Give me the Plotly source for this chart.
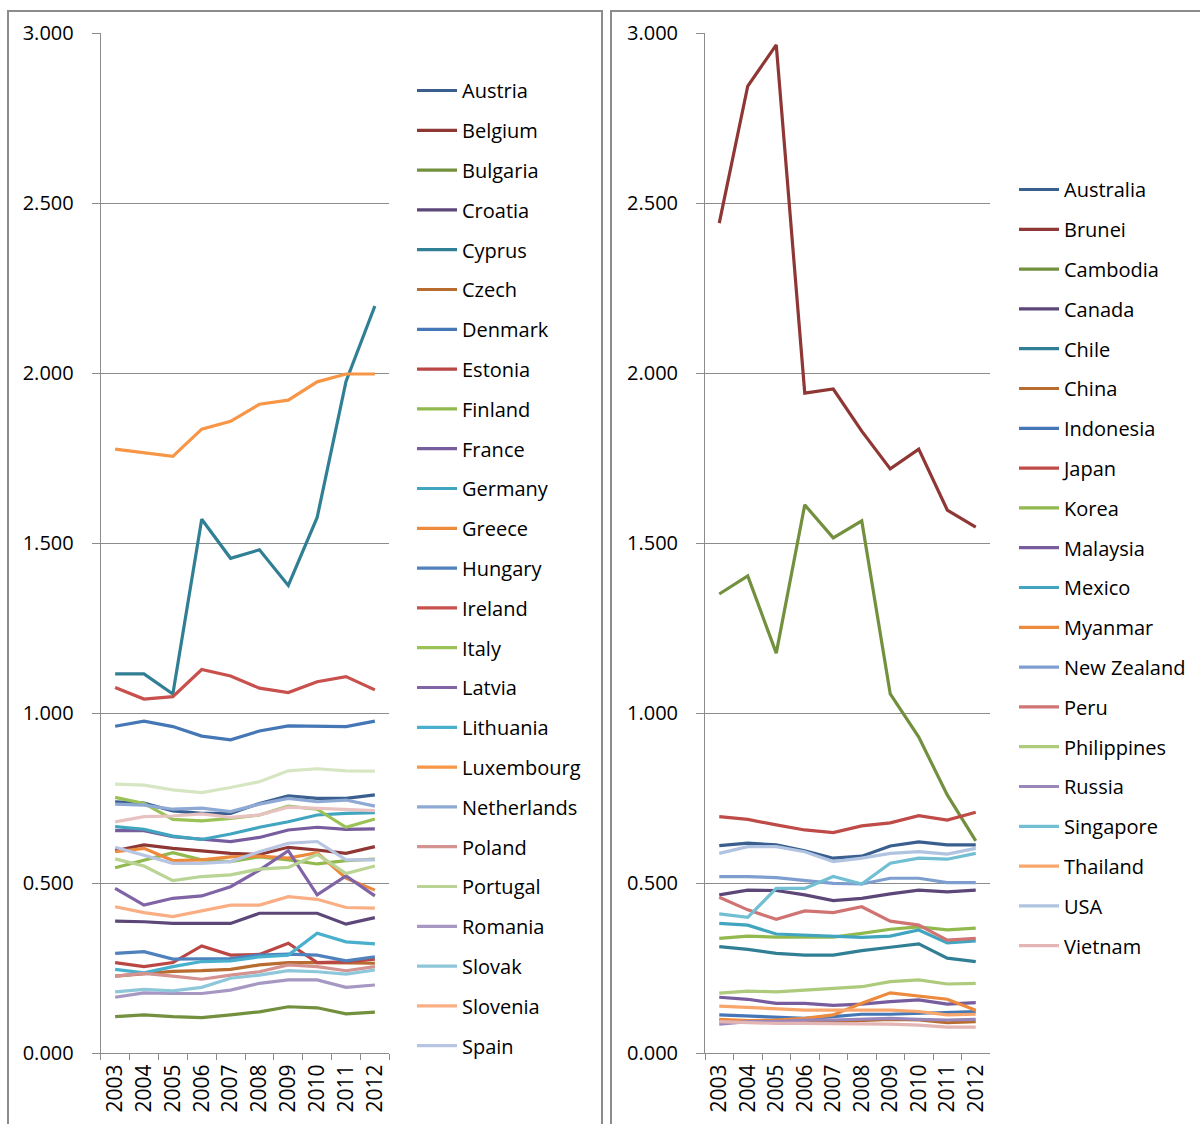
import plotly.graph_objects as go

# ---------------------------------------------------------------- data
years = ["2003", "2004", "2005", "2006", "2007", "2008", "2009", "2010", "2011", "2012"]

y_ticks = [0.0, 0.5, 1.0, 1.5, 2.0, 2.5, 3.0]

# Europe
austria = [0.739, 0.735, 0.712, 0.705, 0.705, 0.734, 0.756, 0.749, 0.749, 0.759]
belgium = [0.595, 0.612, 0.602, 0.595, 0.587, 0.584, 0.605, 0.597, 0.587, 0.607]
bulgaria = [0.107, 0.112, 0.107, 0.104, 0.112, 0.121, 0.136, 0.133, 0.115, 0.120]
croatia = [0.388, 0.386, 0.381, 0.381, 0.381, 0.411, 0.411, 0.411, 0.379, 0.398]
cyprus = [1.115, 1.115, 1.056, 1.570, 1.455, 1.480, 1.375, 1.575, 1.975, 2.197]
czech = [0.226, 0.234, 0.240, 0.242, 0.246, 0.259, 0.266, 0.266, 0.264, 0.264]
denmark = [0.961, 0.976, 0.960, 0.932, 0.921, 0.947, 0.962, 0.962, 0.960, 0.976]
estonia = [0.266, 0.254, 0.266, 0.315, 0.288, 0.290, 0.323, 0.266, 0.268, 0.276]
finland = [0.545, 0.568, 0.589, 0.568, 0.563, 0.577, 0.568, 0.556, 0.566, 0.570]
france = [0.654, 0.654, 0.636, 0.628, 0.622, 0.634, 0.656, 0.664, 0.658, 0.659]
germany = [0.666, 0.658, 0.638, 0.628, 0.644, 0.664, 0.680, 0.700, 0.705, 0.707]
greece = [0.592, 0.602, 0.566, 0.568, 0.577, 0.579, 0.573, 0.589, 0.514, 0.479]
hungary = [0.293, 0.298, 0.276, 0.276, 0.278, 0.288, 0.291, 0.288, 0.271, 0.283]
ireland = [1.075, 1.041, 1.048, 1.128, 1.109, 1.073, 1.060, 1.092, 1.107, 1.068]
italy = [0.752, 0.734, 0.687, 0.683, 0.690, 0.700, 0.726, 0.717, 0.664, 0.688]
latvia = [0.484, 0.435, 0.455, 0.462, 0.489, 0.538, 0.595, 0.465, 0.521, 0.462]
lithuania = [0.246, 0.236, 0.254, 0.269, 0.271, 0.283, 0.288, 0.352, 0.327, 0.321]
luxembourg = [1.776, 1.766, 1.755, 1.835, 1.858, 1.908, 1.920, 1.974, 1.997, 1.997]
netherlands = [0.732, 0.729, 0.717, 0.720, 0.710, 0.732, 0.749, 0.739, 0.744, 0.726]
poland = [0.226, 0.234, 0.226, 0.217, 0.229, 0.239, 0.259, 0.254, 0.242, 0.254]
portugal = [0.571, 0.550, 0.507, 0.519, 0.524, 0.541, 0.546, 0.584, 0.528, 0.550]
romania = [0.164, 0.177, 0.175, 0.175, 0.185, 0.205, 0.215, 0.215, 0.193, 0.200]
slovak = [0.180, 0.187, 0.183, 0.193, 0.220, 0.229, 0.242, 0.239, 0.232, 0.244]
slovenia = [0.430, 0.413, 0.401, 0.419, 0.435, 0.435, 0.460, 0.452, 0.428, 0.426]
spain = [0.605, 0.582, 0.558, 0.558, 0.563, 0.592, 0.617, 0.622, 0.568, 0.568]
sweden = [0.680, 0.695, 0.697, 0.703, 0.693, 0.700, 0.723, 0.720, 0.717, 0.713]
uk = [0.791, 0.788, 0.774, 0.766, 0.781, 0.798, 0.830, 0.836, 0.830, 0.829]

europe_names = ["Austria", "Belgium", "Bulgaria", "Croatia", "Cyprus", "Czech",
                "Denmark", "Estonia", "Finland", "France", "Germany", "Greece",
                "Hungary", "Ireland", "Italy", "Latvia", "Lithuania", "Luxembourg",
                "Netherlands", "Poland", "Portugal", "Romania", "Slovak", "Slovenia",
                "Spain", "Sweden", "United Kingdom"]
europe_values = [austria, belgium, bulgaria, croatia, cyprus, czech,
                 denmark, estonia, finland, france, germany, greece,
                 hungary, ireland, italy, latvia, lithuania, luxembourg,
                 netherlands, poland, portugal, romania, slovak, slovenia,
                 spain, sweden, uk]
europe_colors = ["#3A5F8E", "#8E3735", "#72903D", "#5D4778", "#317F94", "#B86C2F",
                 "#4576B6", "#BA4744", "#92B94E", "#775C9E", "#41A5C0", "#EC8A3E",
                 "#4F81BD", "#C8504D", "#9BC256", "#8064A6", "#48B0CC", "#F79646",
                 "#8EA9D4", "#D49290", "#BAD495", "#A698C3", "#8EC7D9", "#F9AE84",
                 "#B7C5E2", "#E8C2C1", "#D6E5C2"]
europe_in_legend = [True] * 25 + [False, False]

# Asia-Pacific / Americas
australia = [0.610, 0.617, 0.612, 0.595, 0.573, 0.579, 0.609, 0.621, 0.612, 0.612]
brunei = [2.441, 2.844, 2.965, 1.941, 1.953, 1.829, 1.718, 1.776, 1.597, 1.547]
cambodia = [1.350, 1.403, 1.176, 1.612, 1.515, 1.565, 1.056, 0.929, 0.759, 0.624]
canada = [0.465, 0.479, 0.478, 0.465, 0.448, 0.455, 0.468, 0.479, 0.474, 0.479]
chile = [0.313, 0.305, 0.293, 0.288, 0.288, 0.301, 0.311, 0.321, 0.279, 0.269]
china = [0.097, 0.092, 0.089, 0.089, 0.092, 0.095, 0.099, 0.097, 0.089, 0.092]
indonesia = [0.112, 0.109, 0.105, 0.102, 0.107, 0.114, 0.114, 0.117, 0.118, 0.122]
japan = [0.695, 0.687, 0.671, 0.656, 0.648, 0.668, 0.677, 0.698, 0.685, 0.708]
korea = [0.337, 0.344, 0.341, 0.341, 0.341, 0.352, 0.364, 0.371, 0.362, 0.367]
malaysia = [0.164, 0.158, 0.146, 0.146, 0.140, 0.144, 0.151, 0.156, 0.144, 0.148]
mexico = [0.381, 0.376, 0.350, 0.347, 0.344, 0.340, 0.344, 0.362, 0.324, 0.330]
myanmar = [0.099, 0.095, 0.097, 0.102, 0.112, 0.146, 0.177, 0.168, 0.158, 0.126]
new_zealand = [0.519, 0.519, 0.516, 0.507, 0.499, 0.497, 0.514, 0.514, 0.501, 0.501]
peru = [0.458, 0.421, 0.393, 0.418, 0.413, 0.430, 0.388, 0.376, 0.332, 0.337]
philippines = [0.176, 0.182, 0.180, 0.185, 0.192, 0.195, 0.210, 0.215, 0.203, 0.205]
russia = [0.085, 0.092, 0.092, 0.097, 0.097, 0.099, 0.102, 0.099, 0.097, 0.099]
singapore = [0.409, 0.399, 0.484, 0.484, 0.519, 0.497, 0.558, 0.573, 0.570, 0.587]
thailand = [0.138, 0.134, 0.129, 0.126, 0.126, 0.126, 0.126, 0.122, 0.112, 0.114]
usa = [0.587, 0.607, 0.607, 0.592, 0.563, 0.573, 0.587, 0.592, 0.585, 0.602]
vietnam = [0.092, 0.089, 0.087, 0.087, 0.087, 0.087, 0.085, 0.082, 0.076, 0.076]

pacific_names = ["Australia", "Brunei", "Cambodia", "Canada", "Chile", "China",
                 "Indonesia", "Japan", "Korea", "Malaysia", "Mexico", "Myanmar",
                 "New Zealand", "Peru", "Philippines", "Russia", "Singapore",
                 "Thailand", "USA", "Vietnam"]
pacific_values = [australia, brunei, cambodia, canada, chile, china,
                  indonesia, japan, korea, malaysia, mexico, myanmar,
                  new_zealand, peru, philippines, russia, singapore,
                  thailand, usa, vietnam]
pacific_colors = ["#3A5F8E", "#8E3735", "#72903D", "#5D4778", "#317F94", "#B86C2F",
                  "#4576B6", "#BE4B48", "#92B94E", "#775C9E", "#41A5C0", "#EC8A3E",
                  "#7E9ECF", "#CF7472", "#AECA7C", "#9A87BA", "#72BED3", "#F9A66C",
                  "#B0C3E0", "#E3B5B4"]

# ---------------------------------------------------------------- figure
W, H = 1200, 1124
FONT = "Open Sans"
GRID = "#8C8C8C"


def px_x(v):
    return v / W


def px_y(v):
    return 1 - v / H


fig = go.Figure()

for name, vals, col, show in zip(europe_names, europe_values, europe_colors, europe_in_legend):
    fig.add_trace(go.Scatter(x=years, y=vals, name=name, mode="lines",
                             line=dict(color=col, width=3.2),
                             xaxis="x", yaxis="y", legend="legend",
                             legendgroup=name, showlegend=show))

for name, vals, col in zip(pacific_names, pacific_values, pacific_colors):
    fig.add_trace(go.Scatter(x=years, y=vals, name=name, mode="lines",
                             line=dict(color=col, width=3.2),
                             xaxis="x2", yaxis="y2", legend="legend2",
                             legendgroup=name))

y_dom = [px_y(1053), px_y(33)]

yaxis_common = dict(range=[0, 3], tickvals=y_ticks, tickformat=".3f",
                    showgrid=True, gridcolor=GRID, gridwidth=1,
                    showline=True, linecolor=GRID, linewidth=1,
                    ticks="outside", ticklen=8, tickcolor=GRID,
                    ticklabelstandoff=14, zeroline=False, automargin=False,
                    tickfont=dict(family=FONT, size=20, color="#000000"),
                    fixedrange=True)
xaxis_common = dict(type="category", categoryorder="array", categoryarray=years,
                    range=[-0.5, 9.5], showgrid=False, showline=True,
                    linecolor=GRID, linewidth=1, ticks="outside", ticklen=6,
                    tickcolor=GRID, tickson="boundaries", tickangle=-90,
                    ticklabelstandoff=2, automargin=False,
                    tickfont=dict(family=FONT, size=21, color="#000000"),
                    zeroline=False, fixedrange=True)

legend_common = dict(font=dict(family=FONT, size=20, color="#000000"),
                     traceorder="grouped", tracegroupgap=10.8,
                     bgcolor="rgba(0,0,0,0)", borderwidth=0,
                     xanchor="left", yanchor="top", itemwidth=40)

fig.update_layout(
    width=W, height=H,
    margin=dict(l=0, r=0, t=0, b=0, pad=0, autoexpand=False),
    paper_bgcolor="#FFFFFF", plot_bgcolor="#FFFFFF",
    xaxis=dict(domain=[px_x(100.7), px_x(389.3)], anchor="y", **xaxis_common),
    yaxis=dict(domain=y_dom, anchor="x", **yaxis_common),
    xaxis2=dict(domain=[px_x(705), px_x(990)], anchor="y2", **xaxis_common),
    yaxis2=dict(domain=y_dom, anchor="x2", **yaxis_common),
    legend=dict(x=px_x(412), y=px_y(71), **legend_common),
    legend2=dict(x=px_x(1014), y=px_y(170), **legend_common),
    shapes=[
        dict(type="rect", xref="paper", yref="paper",
             x0=px_x(8), x1=px_x(602), y0=px_y(1140), y1=px_y(11),
             line=dict(color="#8C8C8C", width=2), fillcolor="rgba(0,0,0,0)",
             layer="below"),
        dict(type="rect", xref="paper", yref="paper",
             x0=px_x(611), x1=px_x(1210), y0=px_y(1140), y1=px_y(11),
             line=dict(color="#8C8C8C", width=2), fillcolor="rgba(0,0,0,0)",
             layer="below"),
    ],
    showlegend=True,
)

fig.write_html("out.html")
